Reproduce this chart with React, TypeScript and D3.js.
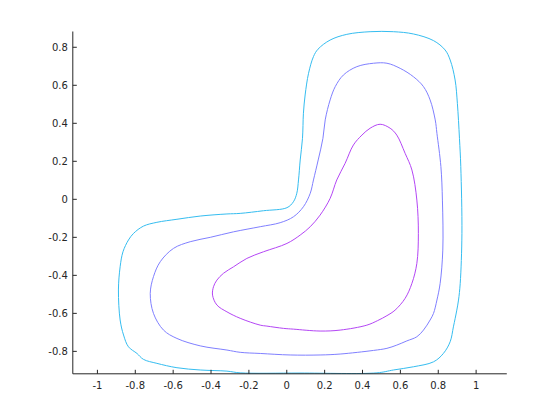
import * as d3 from "d3";

// contour levels, outer to inner, as traced [x, y] pairs
const outerLevel: [number, number][] = [
  [0.44, 0.882], [0.563, 0.882], [0.669, 0.87], [0.775, 0.835], [0.836, 0.786],
  [0.863, 0.733], [0.889, 0.628], [0.901, 0.505], [0.912, 0.321], [0.919, 0.172],
  [0.925, -0.179], [0.916, -0.442], [0.907, -0.53], [0.898, -0.583], [0.88, -0.671],
  [0.863, -0.749], [0.827, -0.811], [0.775, -0.855], [0.669, -0.881], [0.563, -0.898],
  [0.476, -0.913], [0.07, -0.914], [-0.246, -0.913], [-0.316, -0.904], [-0.457, -0.898],
  [-0.58, -0.886], [-0.686, -0.863], [-0.757, -0.842], [-0.791, -0.811], [-0.836, -0.776],
  [-0.862, -0.714], [-0.88, -0.635], [-0.889, -0.477], [-0.88, -0.355], [-0.865, -0.276],
  [-0.836, -0.214], [-0.809, -0.179], [-0.757, -0.141], [-0.686, -0.121], [-0.58, -0.105],
  [-0.457, -0.088], [-0.316, -0.077], [-0.246, -0.074], [-0.123, -0.06], [0.001, -0.044],
  [0.035, -0.013], [0.053, 0.032], [0.062, 0.102], [0.071, 0.207], [0.083, 0.321],
  [0.088, 0.453], [0.097, 0.549], [0.115, 0.663], [0.141, 0.751], [0.165, 0.79],
  [0.229, 0.838], [0.317, 0.868],
];

const middleLevel: [number, number][] = [
  [0.458, 0.716], [0.529, 0.716], [0.599, 0.689], [0.669, 0.645], [0.722, 0.593],
  [0.757, 0.523], [0.784, 0.418], [0.793, 0.347], [0.814, 0.172], [0.822, -0.004],
  [0.824, -0.267], [0.81, -0.442], [0.793, -0.53], [0.775, -0.6], [0.757, -0.635],
  [0.722, -0.688], [0.687, -0.723], [0.634, -0.745], [0.581, -0.767], [0.529, -0.784],
  [0.458, -0.795], [0.282, -0.814], [0.176, -0.819], [0.018, -0.819], [-0.14, -0.811],
  [-0.246, -0.805], [-0.316, -0.793], [-0.457, -0.771], [-0.58, -0.732], [-0.651, -0.688],
  [-0.704, -0.6], [-0.721, -0.495], [-0.704, -0.407], [-0.668, -0.328], [-0.598, -0.258],
  [-0.51, -0.223], [-0.404, -0.2], [-0.281, -0.171], [-0.14, -0.144], [-0.035, -0.123],
  [0.035, -0.092], [0.088, -0.039], [0.124, 0.032], [0.141, 0.102], [0.166, 0.207],
  [0.191, 0.321], [0.203, 0.418], [0.229, 0.523], [0.256, 0.593], [0.299, 0.654],
  [0.37, 0.698],
];

const innerLevel: [number, number][] = [
  [0.493, 0.395], [0.546, 0.374], [0.581, 0.338], [0.625, 0.242], [0.661, 0.154],
  [0.687, -0.004], [0.695, -0.179], [0.687, -0.337], [0.661, -0.442], [0.625, -0.521],
  [0.572, -0.583], [0.529, -0.612], [0.48, -0.638], [0.423, -0.662], [0.282, -0.688],
  [0.176, -0.693], [0.035, -0.683], [-0.017, -0.679], [-0.105, -0.667], [-0.14, -0.662],
  [-0.246, -0.626], [-0.316, -0.592], [-0.369, -0.556], [-0.392, -0.504], [-0.387, -0.46],
  [-0.369, -0.425], [-0.334, -0.389], [-0.281, -0.355], [-0.211, -0.311], [-0.123, -0.276],
  [0.001, -0.232], [0.071, -0.188], [0.124, -0.144], [0.176, -0.083], [0.229, 0.005],
  [0.264, 0.102], [0.308, 0.189], [0.352, 0.286], [0.397, 0.338], [0.44, 0.374],
];

const levels = [outerLevel, middleLevel, innerLevel];
const levelColors = ["#35bdf0", "#8080ff", "#b446f5"];

const xTicks = [-1, -0.8, -0.6, -0.4, -0.2, 0, 0.2, 0.4, 0.6, 0.8, 1];
const yTicks = [-0.8, -0.6, -0.4, -0.2, 0, 0.2, 0.4, 0.6, 0.8];

export default function App() {
  const width = 560;
  const height = 420;
  const marginLeft = 72.8;
  const marginRight = 53.2;
  const marginTop = 31.5;
  const marginBottom = 46.2;

  const x = d3
    .scaleLinear()
    .domain([-1.13, 1.162])
    .range([marginLeft, width - marginRight]);
  const y = d3
    .scaleLinear()
    .domain([-0.918, 0.883])
    .range([height - marginBottom, marginTop]);

  const line = d3
    .line<[number, number]>()
    .x((d) => x(d[0]))
    .y((d) => y(d[1]))
    .curve(d3.curveCatmullRomClosed.alpha(0.5));

  const axisColor = "#262626";
  const fontFamily = "'DejaVu Sans', sans-serif";

  return (
    <svg
      width={width}
      height={height}
      style={{ position: "absolute", left: 0, top: 0, background: "#fff" }}
    >
      {levels.map((pts, i) => (
        <path
          key={i}
          d={line(pts) ?? ""}
          fill="none"
          stroke={levelColors[i]}
          strokeWidth={1}
        />
      ))}

      {/* Axes */}
      <line
        x1={x.range()[0]}
        x2={x.range()[0]}
        y1={y.range()[0]}
        y2={y.range()[1]}
        stroke={axisColor}
        strokeWidth={1}
      />
      <line
        x1={x.range()[0]}
        x2={x.range()[1]}
        y1={y.range()[0]}
        y2={y.range()[0]}
        stroke={axisColor}
        strokeWidth={1}
      />

      {xTicks.map((t) => (
        <g key={"x" + t}>
          <line
            x1={x(t)}
            x2={x(t)}
            y1={y.range()[0]}
            y2={y.range()[0] - 4}
            stroke={axisColor}
          />
          <text
            x={x(t)}
            y={y.range()[0] + 15}
            textAnchor="middle"
            fontSize={10}
            fontFamily={fontFamily}
            fill={axisColor}
          >
            {t}
          </text>
        </g>
      ))}

      {yTicks.map((t) => (
        <g key={"y" + t}>
          <line
            x1={x.range()[0]}
            x2={x.range()[0] + 4}
            y1={y(t)}
            y2={y(t)}
            stroke={axisColor}
          />
          <text
            x={x.range()[0] - 5}
            y={y(t)}
            dy="0.35em"
            textAnchor="end"
            fontSize={10}
            fontFamily={fontFamily}
            fill={axisColor}
          >
            {t}
          </text>
        </g>
      ))}
    </svg>
  );
}
